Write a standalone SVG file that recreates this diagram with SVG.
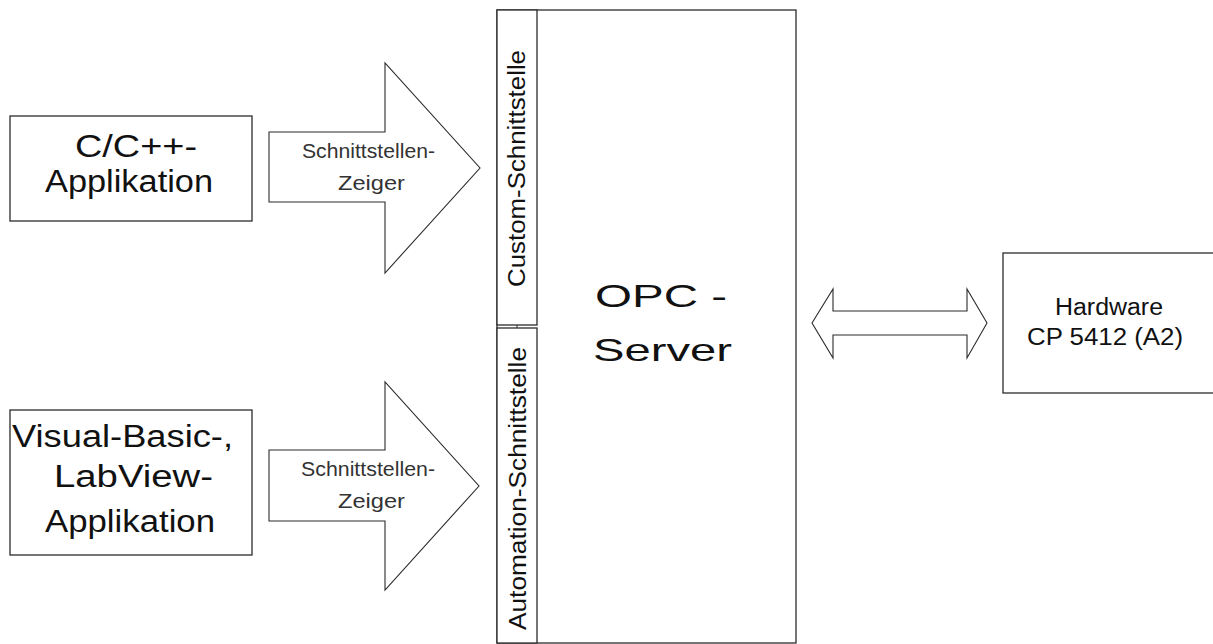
<svg xmlns="http://www.w3.org/2000/svg" width="1213" height="644" viewBox="0 0 1213 644">
<style>
.box{fill:#fff;stroke:#2b2b2b;stroke-width:1.3}
.arr{fill:#fff;stroke:#2b2b2b;stroke-width:1.1;stroke-linejoin:miter}
.t{font-family:"Liberation Sans",Arial,sans-serif;fill:#111}
.big{font-size:31px}
.sm{font-size:20px;fill:#333}
.strip{font-size:23.5px}
.srv{font-size:32px}
.hw{font-size:23px}
</style>
<rect width="1213" height="644" fill="#fff"/>
<g id="server">
<rect class="box" x="497" y="10" width="299" height="633"/>
<text class="t srv" x="595" y="307" textLength="132" lengthAdjust="spacingAndGlyphs">OPC -</text>
<text class="t srv" x="593" y="361" textLength="139" lengthAdjust="spacingAndGlyphs">Server</text>
</g>
<g id="custom-interface">
<rect class="box" x="497" y="10" width="40" height="315"/>
<text class="t strip" transform="translate(525,287) rotate(-90)" textLength="237" lengthAdjust="spacingAndGlyphs">Custom-Schnittstelle</text>
</g>
<g id="automation-interface">
<rect class="box" x="497" y="328" width="40" height="315"/>
<text class="t strip" transform="translate(526,630) rotate(-90)" textLength="283" lengthAdjust="spacingAndGlyphs">Automation-Schnittstelle</text>
</g>
<g id="cpp-app">
<rect class="box" x="10" y="116" width="242" height="105"/>
<text class="t big" x="75" y="157" textLength="122" lengthAdjust="spacingAndGlyphs">C/C++-</text>
<text class="t big" x="45" y="192" textLength="168" lengthAdjust="spacingAndGlyphs">Applikation</text>
</g>
<g id="vb-app">
<rect class="box" x="10" y="410" width="242" height="145"/>
<text class="t big" x="12" y="447" textLength="221" lengthAdjust="spacingAndGlyphs">Visual-Basic-,</text>
<text class="t big" x="54" y="487" textLength="159" lengthAdjust="spacingAndGlyphs">LabView-</text>
<text class="t big" x="45" y="532" textLength="170" lengthAdjust="spacingAndGlyphs">Applikation</text>
</g>
<g id="hardware">
<rect class="box" x="1003" y="253" width="215" height="140"/>
<text class="t hw" x="1055" y="315" textLength="108" lengthAdjust="spacingAndGlyphs">Hardware</text>
<text class="t hw" x="1027" y="345" textLength="156" lengthAdjust="spacingAndGlyphs">CP 5412 (A2)</text>
</g>
<g id="connectors">
<g id="pointer-1">
<polygon class="arr" points="269,132 385,132 385,63 480,168 385,273 385,202 269,202"/>
<text class="t sm" x="302" y="158" textLength="133" lengthAdjust="spacingAndGlyphs">Schnittstellen-</text>
<text class="t sm" x="338" y="190" textLength="67" lengthAdjust="spacingAndGlyphs">Zeiger</text>
</g>
<g id="pointer-2">
<polygon class="arr" points="269,450 385,450 385,382 479,486 385,590 385,521 269,521"/>
<text class="t sm" x="301" y="476" textLength="134" lengthAdjust="spacingAndGlyphs">Schnittstellen-</text>
<text class="t sm" x="338" y="508" textLength="67" lengthAdjust="spacingAndGlyphs">Zeiger</text>
</g>
<line x1="517" y1="325" x2="517" y2="328" stroke="#2b2b2b" stroke-width="1"/>
<polygon class="arr" points="812,323 833,289 833,311 967,311 967,289 987,323 967,358 967,335 833,335 833,358"/>
</g>
</svg>
